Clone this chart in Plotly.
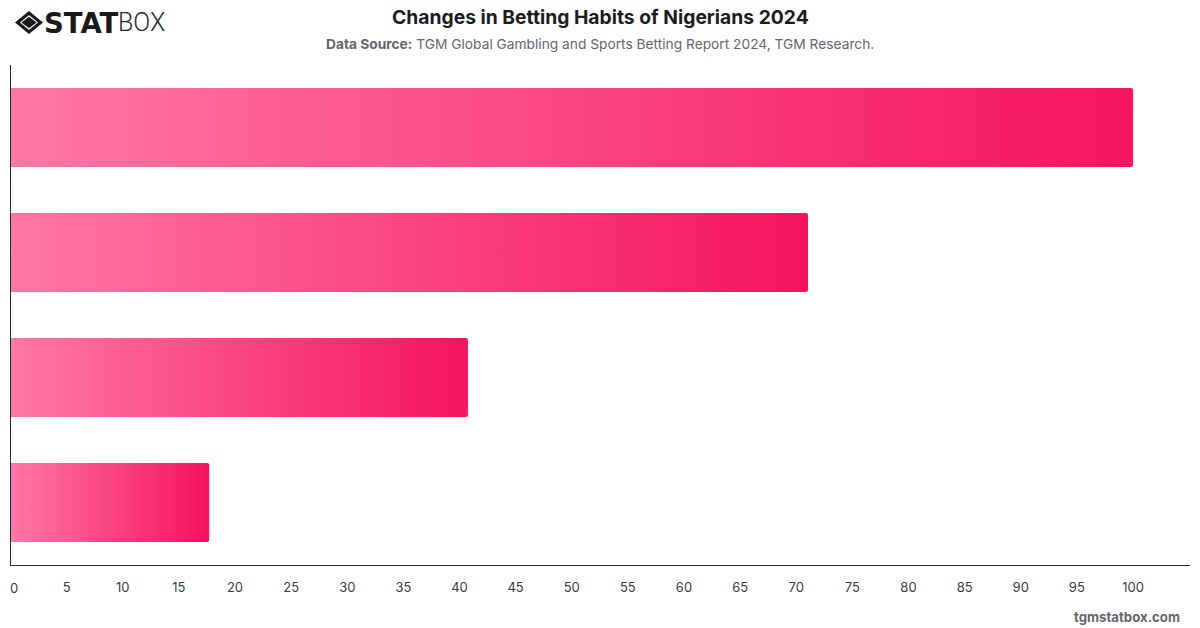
import plotly.graph_objects as go

TITLE = "Changes in Betting Habits of Nigerians 2024"
SOURCE_LABEL = "Data Source:"
SOURCE_TEXT = "TGM Global Gambling and Sports Betting Report 2024, TGM Research."
WATERMARK = "tgmstatbox.com"

# The bars carry no category labels, so they are simply numbered from the top.
bar_ids = [1, 2, 3, 4]
values = [100, 71.05, 40.75, 17.7]
tick_values = list(range(5, 105, 5))

W, H = 1200, 628
PLOT_L, PLOT_R, PLOT_T, PLOT_B = 10.5, 1190, 65, 565
COLOR_START = "#ff77a6"
COLOR_END = "#f5145f"
BAR_WIDTH = 0.632
X_MAX = 105.08
FONT = "Inter, sans-serif"


def px(x):
    return x / W


def py(y):
    return 1 - y / H


fig = go.Figure()

# Solid bars give the true value and the rounded end.
fig.add_trace(go.Bar(
    x=values, y=bar_ids, orientation="h", width=BAR_WIDTH,
    marker=dict(color=COLOR_END, line=dict(width=0)),
    hoverinfo="x",
))

# A gradient fill over each bar, stopping just short of the rounded corners.
for bar_id, value in zip(bar_ids, values):
    end = value - 0.25
    half = BAR_WIDTH / 2
    fig.add_trace(go.Scatter(
        x=[0, end, end, 0, 0],
        y=[bar_id - half, bar_id - half, bar_id + half, bar_id + half, bar_id - half],
        mode="lines", line=dict(width=0), fill="toself",
        fillgradient=dict(
            type="horizontal", start=0, stop=end,
            colorscale=[[0, COLOR_START], [1, COLOR_END]],
        ),
        hoverinfo="skip", showlegend=False,
    ))


def text(x, y, s, size, color, anchor="center", weight=None, family=FONT):
    fig.add_annotation(
        x=px(x), y=py(y), xref="paper", yref="paper", text=s, showarrow=False,
        xanchor=anchor, yanchor="middle",
        font=dict(family=family, size=size, color=color, weight=weight),
    )


text(600, 17, TITLE, 19.3, "#1c1c1f", weight=700)
text(600, 44, f"<b>{SOURCE_LABEL}</b> {SOURCE_TEXT}", 13.75, "#66666d")
text(1182, 617, f"<b>{WATERMARK}</b>", 13.2, "#66666d", anchor="right")
text(13.5, 588, "0", 13, "#3c3c40")

# Logo: nested diamonds beside the wordmark.
text(41.5, 22.5, "STAT", 27.5, "#1a1a1d", anchor="left", weight=700,
     family="DejaVu Sans, sans-serif")
text(115.5, 22.5, "BOX", 25, "#2b2b2e", anchor="left", weight=300,
     family="Roboto, sans-serif")


def diamond(cx, cy, rx, ry):
    pts = [(cx - rx, cy), (cx, cy - ry), (cx + rx, cy), (cx, cy + ry)]
    return "M " + " L ".join(f"{px(a):.5f},{py(b):.5f}" for a, b in pts) + " Z"


fig.add_shape(type="path", xref="paper", yref="paper", path=diamond(29, 22.5, 11.5, 9.5),
              line=dict(color="#1a1a1d", width=3.2), fillcolor="white")
fig.add_shape(type="path", xref="paper", yref="paper", path=diamond(29, 22.5, 7.5, 5.8),
              line=dict(width=0), fillcolor="#1a1a1d")

fig.update_layout(
    width=W, height=H, autosize=False,
    margin=dict(l=0, r=0, t=0, b=0),
    paper_bgcolor="white", plot_bgcolor="white",
    showlegend=False, barmode="overlay", barcornerradius=2,
    xaxis=dict(
        domain=[px(PLOT_L), px(PLOT_R)], range=[0, X_MAX], automargin=False,
        tickmode="array", tickvals=tick_values, ticks="", showgrid=False, zeroline=False,
        tickfont=dict(family=FONT, size=13, color="#3c3c40"),
        showline=True, linecolor="#2b2b2e", linewidth=1, ticklabelstandoff=10,
    ),
    yaxis=dict(
        domain=[py(PLOT_B), py(PLOT_T)], range=[4.5, 0.5], automargin=False,
        showticklabels=False, ticks="", showgrid=False, zeroline=False,
        showline=True, linecolor="#2b2b2e", linewidth=1,
    ),
)

fig.write_html("out.html")
